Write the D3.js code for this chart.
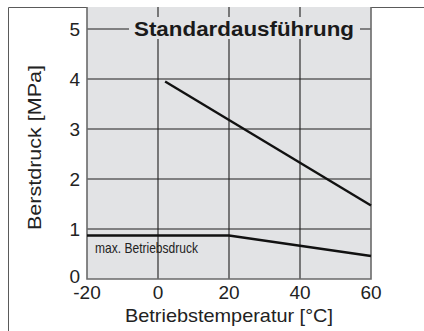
<!DOCTYPE html>
<html>
<head>
<meta charset="utf-8">
<script src="https://cdn.jsdelivr.net/npm/d3@7"></script>
<style>
  html, body { margin: 0; padding: 0; background: #ffffff; }
  svg { display: block; font-family: "Liberation Sans", Arial, sans-serif; }
</style>
</head>
<body>
<svg id="chart" width="424" height="331"></svg>
<script>
// Temperature axis ticks and pressure axis ticks
const xTicks = [-20, 0, 20, 40, 60];
const yTicks = [0, 1, 2, 3, 4, 5];

// Burst pressure (Berstdruck) vs. operating temperature
const burstTemp = [2, 60];
const burstPressure = [3.95, 1.47];

// Maximum working pressure (max. Betriebsdruck)
const workTemp = [-20, 20, 60];
const workPressure = [0.87, 0.87, 0.46];

const titleText = "Standardausführung";
const xTitle = "Betriebstemperatur [°C]";
const yTitle = "Berstdruck [MPa]";
const workLabel = "max. Betriebsdruck";

const svg = d3.select("#chart");
const plotLeft = 87, plotRight = 371, plotBottom = 279, plotTop = 7;

const x = d3.scaleLinear().domain([-20, 60]).range([plotLeft, plotRight]);
const y = d3.scaleLinear().domain([0, 5]).range([plotBottom, 29]);

// outer frame (left and top edges)
svg.append("path")
  .attr("d", `M8.5,331 V7.5 H424`)
  .attr("fill", "none").attr("stroke", "#5a5a5a").attr("stroke-width", 1);

// plot background
svg.append("rect")
  .attr("x", plotLeft).attr("y", plotTop)
  .attr("width", plotRight - plotLeft).attr("height", plotBottom - plotTop)
  .attr("fill", "#e2e3e5");

// grid lines
const grid = svg.append("g").attr("stroke", "#1e1e1e").attr("stroke-width", 1.1);
grid.selectAll("line.h").data(yTicks.filter(d => d > 0)).join("line")
  .attr("class", "h")
  .attr("x1", plotLeft).attr("x2", plotRight)
  .attr("y1", d => y(d)).attr("y2", d => y(d));
grid.selectAll("line.v").data(xTicks.filter(d => d > -20 && d < 60)).join("line")
  .attr("class", "v")
  .attr("x1", d => x(d)).attr("x2", d => x(d))
  .attr("y1", plotTop).attr("y2", plotBottom);

// plot border (left, bottom, right)
svg.append("path")
  .attr("d", `M${plotLeft},${plotTop} V${plotBottom} H${plotRight} V${plotTop}`)
  .attr("fill", "none").attr("stroke", "#6a6a6a").attr("stroke-width", 1.6);

// title with a background box that interrupts the grid
svg.append("rect")
  .attr("x", 129).attr("y", 17).attr("width", 231).attr("height", 22)
  .attr("fill", "#e2e3e5");
svg.append("text")
  .attr("x", 134).attr("y", 35.5)
  .attr("font-size", 19.5).attr("font-weight", "bold").attr("fill", "#1a1a1a")
  .attr("textLength", 220).attr("lengthAdjust", "spacingAndGlyphs")
  .text(titleText);

// data lines
const line = d3.line().x(d => x(d[0])).y(d => y(d[1]));
svg.append("path")
  .datum(d3.zip(burstTemp, burstPressure))
  .attr("d", line)
  .attr("fill", "none").attr("stroke", "#111").attr("stroke-width", 2.4);
svg.append("path")
  .datum(d3.zip(workTemp, workPressure))
  .attr("d", line)
  .attr("fill", "none").attr("stroke", "#111").attr("stroke-width", 2.4);

svg.append("text")
  .attr("x", 95).attr("y", 253)
  .attr("font-size", 15).attr("fill", "#222")
  .attr("textLength", 103).attr("lengthAdjust", "spacingAndGlyphs")
  .text(workLabel);

// y tick labels
svg.append("g").selectAll("text").data(yTicks).join("text")
  .attr("x", 80).attr("y", d => y(d) + (d === 0 ? 4 : 7))
  .attr("text-anchor", "end").attr("font-size", 19).attr("fill", "#222")
  .text(d => d);

// x tick labels
svg.append("g").selectAll("text").data(xTicks).join("text")
  .attr("x", d => x(d)).attr("y", 299)
  .attr("text-anchor", "middle").attr("font-size", 19).attr("fill", "#222")
  .text(d => d);

// axis titles
svg.append("text")
  .attr("x", 125).attr("y", 322)
  .attr("font-size", 18.5).attr("fill", "#222")
  .attr("textLength", 208).attr("lengthAdjust", "spacingAndGlyphs")
  .text(xTitle);

svg.append("text")
  .attr("transform", "translate(41,230) rotate(-90)")
  .attr("font-size", 18.5).attr("fill", "#222")
  .attr("textLength", 165).attr("lengthAdjust", "spacingAndGlyphs")
  .text(yTitle);
</script>
</body>
</html>
